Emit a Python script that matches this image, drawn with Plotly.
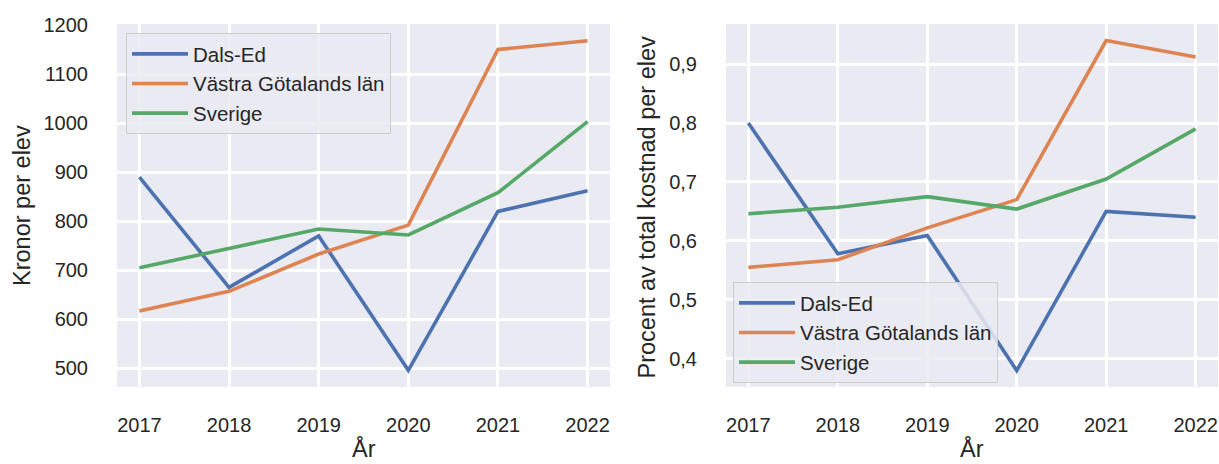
import plotly.graph_objects as go

years = [2017, 2018, 2019, 2020, 2021, 2022]
series_names = ["Dals-Ed", "Västra Götalands län", "Sverige"]

kronor_dals_ed = [890, 665, 770, 496, 820, 862]
kronor_vgl = [617, 657, 733, 792, 1150, 1168]
kronor_sverige = [705, 745, 784, 772, 858, 1003]

procent_dals_ed = [0.80, 0.578, 0.609, 0.38, 0.65, 0.64]
procent_vgl = [0.555, 0.568, 0.622, 0.67, 0.94, 0.912]
procent_sverige = [0.646, 0.657, 0.675, 0.654, 0.705, 0.79]

left_ticks = [500, 600, 700, 800, 900, 1000, 1100, 1200]
right_ticks = [0.4, 0.5, 0.6, 0.7, 0.8, 0.9]
right_ticktext = ["0,4", "0,5", "0,6", "0,7", "0,8", "0,9"]

left_ylabel = "Kronor per elev"
right_ylabel = "Procent av total kostnad per elev"
xlabel = "År"

colors = ["#4C72B0", "#DD8452", "#55A868"]
W, H = 1219, 464
FONT = "Liberation Sans, Arial, sans-serif"
TXT = "#262626"
TICK = 20
LAB = 23.5


def fx(sx):
    return sx / W


def fy(sy):
    return (H - sy) / H


fig = go.Figure()
for name, vals, c in zip(series_names, [kronor_dals_ed, kronor_vgl, kronor_sverige], colors):
    fig.add_trace(go.Scatter(x=years, y=vals, name=name, mode="lines",
                             line=dict(color=c, width=3.6), xaxis="x", yaxis="y",
                             legend="legend"))
for name, vals, c in zip(series_names, [procent_dals_ed, procent_vgl, procent_sverige], colors):
    fig.add_trace(go.Scatter(x=years, y=vals, name=name, mode="lines",
                             line=dict(color=c, width=3.6), xaxis="x2", yaxis="y2",
                             legend="legend2"))

PT, PB = 24, 387
ydom = [fy(PB), fy(PT)]
common_x = dict(range=[2016.75, 2022.25], tickvals=years, showgrid=True, gridcolor="white",
                gridwidth=2.5, zeroline=False, showline=False, ticks="outside", ticklen=20,
                tickcolor="rgba(0,0,0,0)", tickfont=dict(size=TICK, color=TXT, family=FONT),
                automargin=False)
common_y = dict(showgrid=True, gridcolor="white", gridwidth=2.5, zeroline=False, showline=False,
                ticks="outside", ticklen=24, tickcolor="rgba(0,0,0,0)",
                tickfont=dict(size=TICK, color=TXT, family=FONT), domain=ydom, automargin=False)

legend_common = dict(bgcolor="rgba(234,234,242,0.85)", bordercolor="#cccccc", borderwidth=1,
                     font=dict(size=20.5, color=TXT, family=FONT), xanchor="left", yanchor="top",
                     itemwidth=56, tracegroupgap=0)

lab_font = dict(size=LAB, color=TXT, family=FONT)
annotations = [
    dict(text=left_ylabel, x=fx(22), y=fy(206), xref="paper", yref="paper",
         textangle=-90, showarrow=False, font=lab_font, xanchor="center", yanchor="middle"),
    dict(text=right_ylabel, x=fx(646), y=fy(207.5), xref="paper", yref="paper",
         textangle=-90, showarrow=False, font=lab_font, xanchor="center", yanchor="middle"),
    dict(text=xlabel, x=fx(363.5), y=fy(448), xref="paper", yref="paper",
         showarrow=False, font=lab_font, xanchor="center", yanchor="middle"),
    dict(text=xlabel, x=fx(972), y=fy(448), xref="paper", yref="paper",
         showarrow=False, font=lab_font, xanchor="center", yanchor="middle"),
]

fig.update_layout(
    width=W, height=H,
    margin=dict(l=0, r=0, t=0, b=0),
    paper_bgcolor="white", plot_bgcolor="#EAEAF2",
    font=dict(family=FONT, color=TXT),
    xaxis=dict(domain=[fx(117), fx(610)], anchor="y", **common_x),
    yaxis=dict(range=[462, 1202], tickvals=left_ticks, anchor="x", **common_y),
    xaxis2=dict(domain=[fx(726), fx(1218)], anchor="y2", **common_x),
    yaxis2=dict(range=[0.352, 0.968], tickvals=right_ticks, ticktext=right_ticktext, anchor="x2",
                **common_y),
    legend=dict(x=fx(126), y=fy(33), **legend_common),
    legend2=dict(x=fx(733), y=fy(282), **legend_common),
    annotations=annotations,
)

# remove the default page margin so the figure fills the 1219x464 window exactly
fig.write_html("out.html", config={"displayModeBar": False},
               post_script="document.body.style.margin='0';document.body.style.overflow='hidden';")
